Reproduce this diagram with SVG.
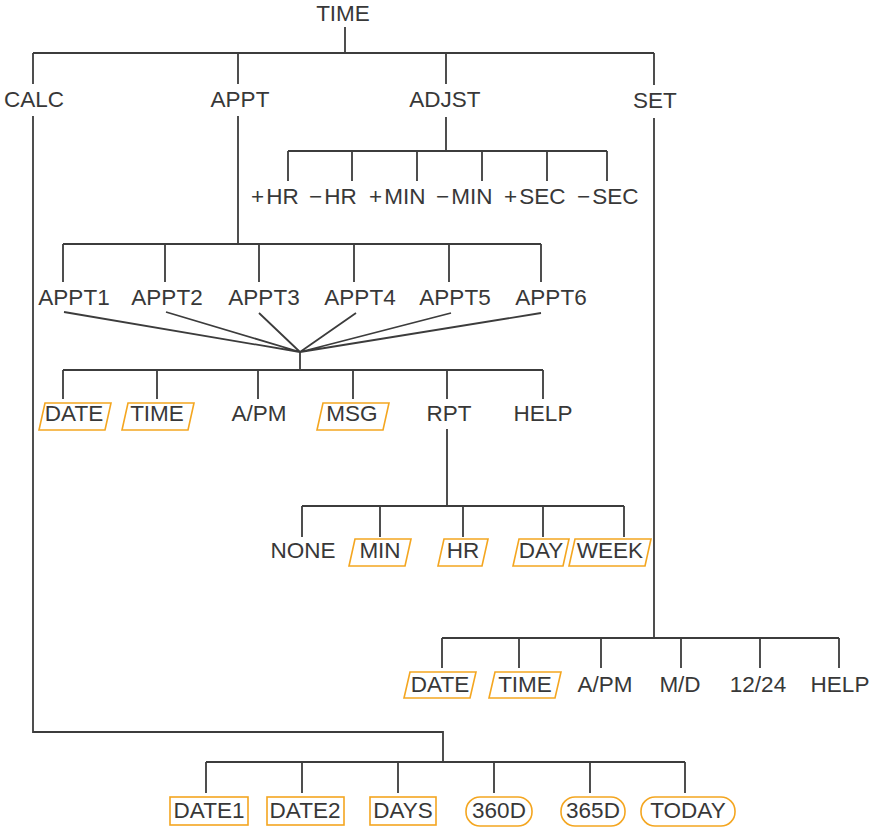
<svg xmlns="http://www.w3.org/2000/svg" width="879" height="831" viewBox="0 0 879 831">
<style>
text{font-family:"Liberation Sans",Arial,sans-serif;font-size:22.5px;fill:#383838;text-anchor:middle}
.s{text-anchor:start}
.c{fill:none;stroke:#3c3c3c;stroke-width:1.8}
.b{fill:none;stroke:#f4a620;stroke-width:1.6}
</style>
<rect width="879" height="831" fill="#fff"/>
<g id="connectors" class="c">
<path d="M345 27V53M33 53H654M33 53V84M238 53V84M446 53V84M654 53V85"/>
<path d="M446 117V151M288 151H607M288 151V181M352 151V181M417 151V181M482 151V181M547 151V181M607 151V181"/>
<path d="M238 116V244M63 244H541M63 244V282M165 244V282M259 244V282M354 244V282M449 244V282M541 244V282"/>
<path d="M64 312L300 352M166 312L300 352M259 313L300 352M356 313L300 352M451 313L300 352M541 313L300 352"/>
<path d="M300 352V370M63 370H543M63 370V399M157 370V399M258 370V399M353 370V399M447 370V399M543 370V399"/>
<path d="M447 429V506M302 506H624M302 506V537M380 506V537M463 506V537M543 506V537M624 506V537"/>
<path d="M654 118V638M442 638H839M442 638V668M519 638V668M601 638V668M681 638V668M760 638V668M839 638V668"/>
<path d="M33 116V732H443V762M206 762H685M206 762V793M302 762V793M398 762V793M494 762V793M590 762V793M685 762V793"/>
</g>
<g id="n-time"><text x="343" y="21">TIME</text></g>
<g id="n-calc"><text x="34" y="107">CALC</text></g>
<g id="n-appt"><text x="240" y="107">APPT</text></g>
<g id="n-adjst"><text x="445" y="107">ADJST</text></g>
<g id="n-set"><text x="655" y="108">SET</text></g>
<g id="n-phr"><text class="s" x="251" y="204">+<tspan dx="2">HR</tspan></text></g>
<g id="n-mhr"><text class="s" x="309" y="204">−<tspan dx="2">HR</tspan></text></g>
<g id="n-pmin"><text class="s" x="369" y="204">+<tspan dx="2">MIN</tspan></text></g>
<g id="n-mmin"><text class="s" x="436" y="204">−<tspan dx="2">MIN</tspan></text></g>
<g id="n-psec"><text class="s" x="504" y="204">+<tspan dx="2">SEC</tspan></text></g>
<g id="n-msec"><text class="s" x="577" y="204">−<tspan dx="2">SEC</tspan></text></g>
<g id="n-appt1"><text x="74" y="305">APPT1</text></g>
<g id="n-appt2"><text x="167" y="305">APPT2</text></g>
<g id="n-appt3"><text x="264" y="305">APPT3</text></g>
<g id="n-appt4"><text x="360" y="305">APPT4</text></g>
<g id="n-appt5"><text x="455" y="305">APPT5</text></g>
<g id="n-appt6"><text x="551" y="305">APPT6</text></g>
<g id="n-a-date"><path class="b" d="M45 403H111L105 430H39Z"/><text x="74" y="421">DATE</text></g>
<g id="n-a-time"><path class="b" d="M128 403H194L188 430H122Z"/><text x="157" y="421">TIME</text></g>
<g id="n-a-apm"><text x="259" y="421">A/PM</text></g>
<g id="n-a-msg"><path class="b" d="M323 403H389L383 430H317Z"/><text x="352" y="421">MSG</text></g>
<g id="n-a-rpt"><text x="449" y="421">RPT</text></g>
<g id="n-a-help"><text x="543" y="421">HELP</text></g>
<g id="n-r-none"><text x="303" y="558">NONE</text></g>
<g id="n-r-min"><path class="b" d="M355 539H411L405 566H349Z"/><text x="380" y="558">MIN</text></g>
<g id="n-r-hr"><path class="b" d="M444 539H488L482 566H438Z"/><text x="463" y="558">HR</text></g>
<g id="n-r-day"><path class="b" d="M519 539H569L563 566H513Z"/><text x="541" y="558">DAY</text></g>
<g id="n-r-week"><path class="b" d="M575 539H651L645 566H569Z"/><text x="610" y="558">WEEK</text></g>
<g id="n-s-date"><path class="b" d="M410 672H476L470 698H404Z"/><text x="440" y="692">DATE</text></g>
<g id="n-s-time"><path class="b" d="M495 672H561L555 698H489Z"/><text x="525" y="692">TIME</text></g>
<g id="n-s-apm"><text x="605" y="692">A/PM</text></g>
<g id="n-s-md"><text x="680" y="692">M/D</text></g>
<g id="n-s-1224"><text x="758" y="692">12/24</text></g>
<g id="n-s-help"><text x="840" y="692">HELP</text></g>
<g id="n-c-date1"><rect class="b" x="170" y="797" width="78" height="28"/><text x="209" y="818">DATE1</text></g>
<g id="n-c-date2"><rect class="b" x="267" y="797" width="77" height="28"/><text x="305" y="818">DATE2</text></g>
<g id="n-c-days"><rect class="b" x="370" y="797" width="66" height="28"/><text x="403" y="818">DAYS</text></g>
<g id="n-c-360d"><rect class="b" x="466" y="797" width="66" height="29" rx="14"/><text x="499" y="818">360D</text></g>
<g id="n-c-365d"><rect class="b" x="561" y="797" width="64" height="29" rx="14"/><text x="593" y="818">365D</text></g>
<g id="n-c-today"><rect class="b" x="641" y="797" width="94" height="29" rx="14"/><text x="688" y="818">TODAY</text></g>
</svg>
